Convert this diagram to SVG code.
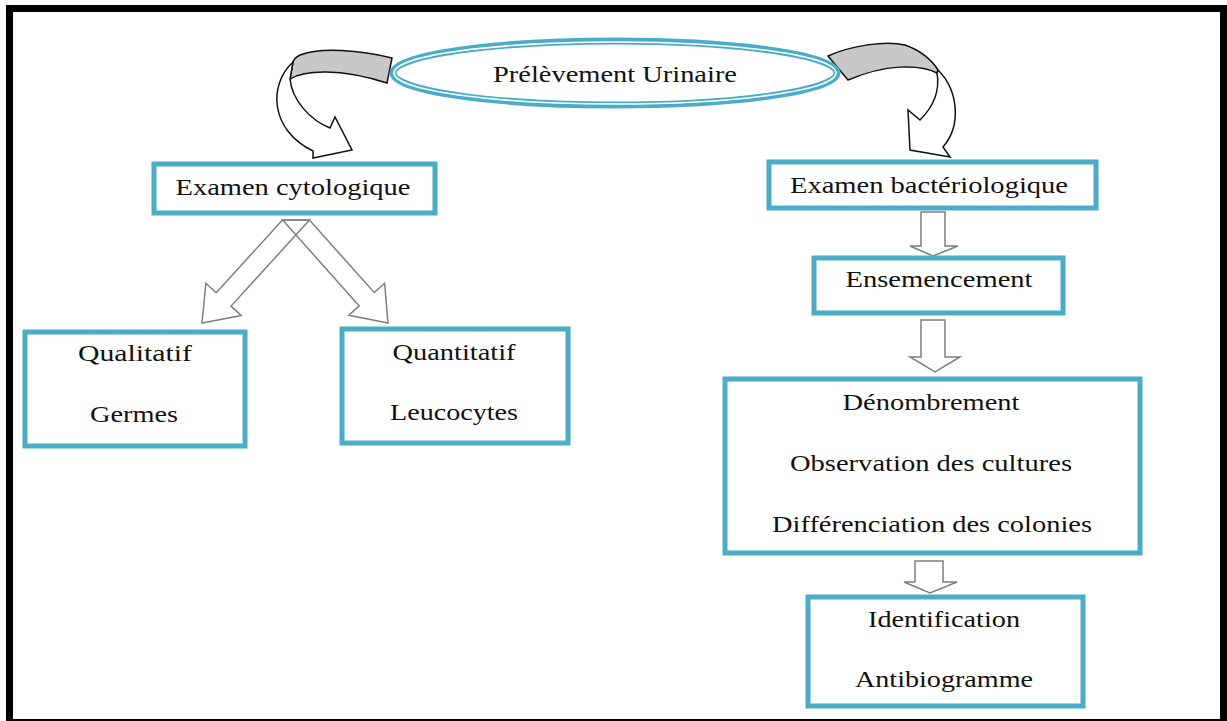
<svg xmlns="http://www.w3.org/2000/svg" width="1227" height="721" viewBox="0 0 1227 721">
<style>
.box{fill:#fff;stroke:#4bacc6;stroke-width:5}
.t{font-family:"Liberation Serif","Times New Roman",serif;font-size:24px;fill:#111;text-anchor:middle}
.blk{fill:#fff;stroke:#7f7f7f;stroke-width:1.5;stroke-linejoin:miter}
.cur{fill:#fff;stroke:#111;stroke-width:1.5;stroke-linejoin:miter}
.band{fill:#c8c8c8;stroke:#111;stroke-width:1.5}
</style>
<rect x="0" y="0" width="1227" height="721" fill="#fff"/>
<g id="frame" fill="#000">
<rect x="6" y="5" width="1221" height="7"/>
<rect x="6" y="5" width="7" height="716"/>
<rect x="1220" y="5" width="7" height="716"/>
<rect x="6" y="719" width="1221" height="2"/>
</g>
<g id="connectors">
<path class="band" d="M392,58 C360,50 320,47 300,55 Q294,58 293,62 L290,79 C305,70 340,68 387,83 Z"/>
<path class="cur" d="M293,62 C268,85 270,130 313,151 L313,158 L352,150 L335,117 L330,128 C310,120 292,100 290,79 Z"/>
<path class="band" d="M828,56 C850,46 885,40 905,45 C920,50 932,60 938,70 L937,73 C920,64 885,64 848,80 Z"/>
<path class="cur" d="M938,70 C958,90 962,125 943,147 L950,157 L910,150 L908,110 L920,120 C935,105 940,90 937,73 Z"/>
<polygon class="blk" fill="none" style="fill:none" points="282.5,220 216.2,292.7 205.9,283.2 202,323 241.3,315.6 231,306.1 309.5,220"/>
<polygon class="blk" style="fill:none" points="309.4,220 374.2,292.5 384.6,283.2 388,323 348.8,315.2 359.2,305.9 282.6,220"/>
<polygon class="blk" points="921,212 945,212 945,246 958,246 933,256 910,246 921,246"/>
<polygon class="blk" points="921,320 945,320 945,357 960,357 935,372 910,357 921,357"/>
<polygon class="blk" points="915,561 943,561 943,582 957,582 930,593 904,582 915,582"/>
</g>
<g id="node-prelevement">
<ellipse cx="615" cy="73" rx="222" ry="32" fill="#fff" stroke="#4bacc6" stroke-width="7"/>
<ellipse cx="615" cy="73" rx="221" ry="31" fill="none" stroke="#fff" stroke-width="1.5"/>
<text class="t" x="615" y="82" textLength="244" lengthAdjust="spacingAndGlyphs">Prélèvement Urinaire</text>
</g>
<g id="node-cytologique">
<rect class="box" x="154" y="164" width="281" height="49"/>
<text class="t" x="293" y="195" textLength="235" lengthAdjust="spacingAndGlyphs">Examen cytologique</text>
</g>
<g id="node-bacteriologique">
<rect class="box" x="769" y="162" width="327" height="46"/>
<text class="t" x="929" y="193" textLength="278" lengthAdjust="spacingAndGlyphs">Examen bactériologique</text>
</g>
<g id="node-qualitatif">
<rect class="box" x="25" y="332" width="220" height="114"/>
<text class="t" x="135" y="361" textLength="114" lengthAdjust="spacingAndGlyphs">Qualitatif</text>
<text class="t" x="134" y="422" textLength="88" lengthAdjust="spacingAndGlyphs">Germes</text>
</g>
<g id="node-quantitatif">
<rect class="box" x="342" y="329" width="226" height="114"/>
<text class="t" x="454" y="360" textLength="123" lengthAdjust="spacingAndGlyphs">Quantitatif</text>
<text class="t" x="454" y="420" textLength="128" lengthAdjust="spacingAndGlyphs">Leucocytes</text>
</g>
<g id="node-ensemencement">
<rect class="box" x="814" y="258" width="249" height="55"/>
<text class="t" x="939" y="287" textLength="187" lengthAdjust="spacingAndGlyphs">Ensemencement</text>
</g>
<g id="node-denombrement">
<rect class="box" x="725" y="379" width="415" height="174"/>
<text class="t" x="931" y="410" textLength="177" lengthAdjust="spacingAndGlyphs">Dénombrement</text>
<text class="t" x="931" y="471" textLength="282" lengthAdjust="spacingAndGlyphs">Observation des cultures</text>
<text class="t" x="932" y="532" textLength="320" lengthAdjust="spacingAndGlyphs">Différenciation des colonies</text>
</g>
<g id="node-identification">
<rect class="box" x="808" y="597" width="275" height="109"/>
<text class="t" x="944" y="627" textLength="152" lengthAdjust="spacingAndGlyphs">Identification</text>
<text class="t" x="944" y="687" textLength="178" lengthAdjust="spacingAndGlyphs">Antibiogramme</text>
</g>
</svg>
